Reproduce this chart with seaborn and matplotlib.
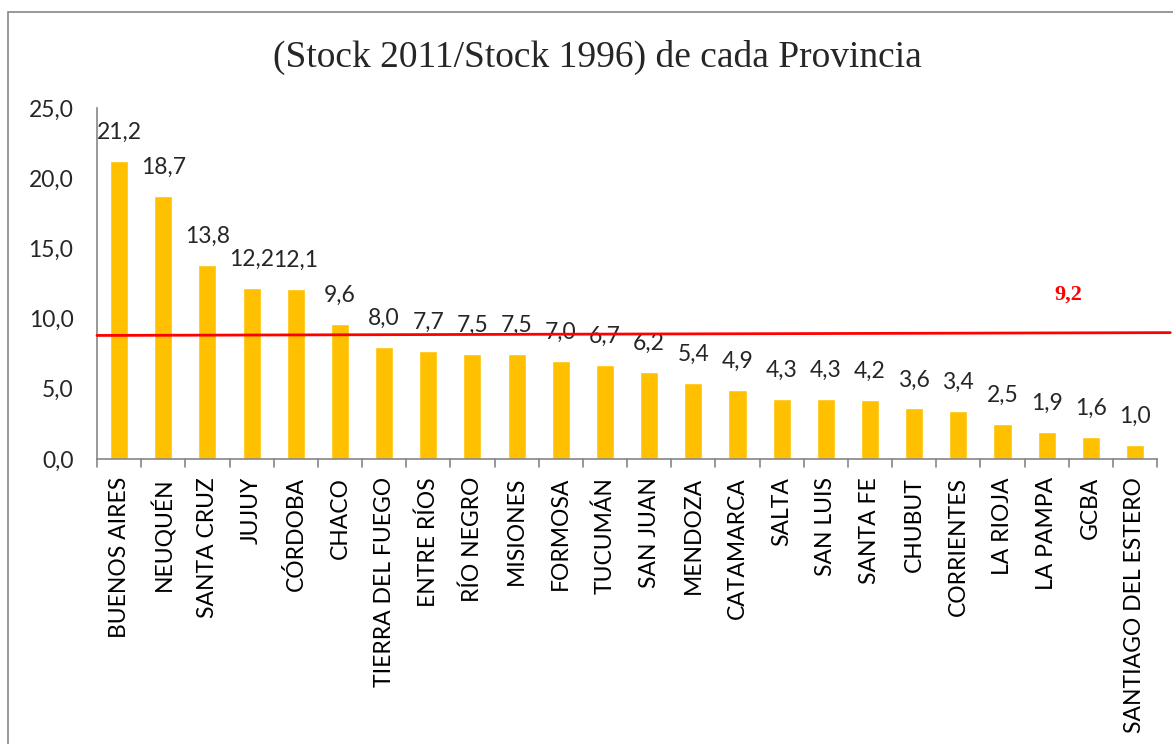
import numpy as np
import pandas as pd
import matplotlib
matplotlib.use("Agg")
import matplotlib.pyplot as plt
import seaborn as sns
from matplotlib.patches import Rectangle
from matplotlib.lines import Line2D

sns.set_theme(style="white")
plt.rcParams['font.family'] = ['Lato', 'DejaVu Sans']

# data
provincias = ['BUENOS AIRES', 'NEUQUÉN', 'SANTA CRUZ', 'JUJUY', 'CÓRDOBA', 'CHACO',
              'TIERRA DEL FUEGO', 'ENTRE RÍOS', 'RÍO NEGRO', 'MISIONES', 'FORMOSA',
              'TUCUMÁN', 'SAN JUAN', 'MENDOZA', 'CATAMARCA', 'SALTA', 'SAN LUIS',
              'SANTA FE', 'CHUBUT', 'CORRIENTES', 'LA RIOJA', 'LA PAMPA', 'GCBA',
              'SANTIAGO DEL ESTERO']
ratio = [21.2, 18.7, 13.8, 12.2, 12.1, 9.6, 8.0, 7.7, 7.5, 7.5, 7.0, 6.7, 6.2,
         5.4, 4.9, 4.3, 4.3, 4.2, 3.6, 3.4, 2.5, 1.9, 1.6, 1.0]
promedio_label = '9,2'
linea_ini, linea_fin = 8.8, 9.0   # red line as drawn (slightly tilted)
yticks = [0, 5, 10, 15, 20, 25]

df = pd.DataFrame({'prov': provincias, 'ratio': ratio})

fig = plt.figure(figsize=(11.73, 7.44), dpi=100)
ax = fig.add_axes([0.0827, 0.383, 0.9037, 0.472])

sns.barplot(data=df, x='prov', y='ratio', color='#FFC000', saturation=1,
            width=0.41, ax=ax)

ax.set_xlim(-0.5, len(provincias) - 0.5)
ax.set_ylim(0, 25)
ax.set_yticks(yticks)
ax.set_yticklabels([f'{v:.1f}'.replace('.', ',') for v in yticks], fontsize=16.5)
ax.set_xticks(range(len(provincias)))
ax.set_xticklabels(provincias, rotation=90, fontsize=16.5)
ax.set_xlabel('')
ax.set_ylabel('')

# Excel-like axes: ticks between categories
ax.tick_params(axis='x', length=0, pad=13, colors='black')
ax.tick_params(axis='y', length=5, width=1.2, color='#868686', direction='out', pad=12)
for x in np.arange(-0.5, len(provincias), 1.0):
    ax.add_line(Line2D([x, x], [0, -0.6], color='#868686', lw=1.2, clip_on=False))
for s in ['top', 'right']:
    ax.spines[s].set_visible(False)
for s in ['left', 'bottom']:
    ax.spines[s].set_color('#868686')
    ax.spines[s].set_linewidth(1.2)

# value labels
ax.bar_label(ax.containers[0], labels=[f'{v:.1f}'.replace('.', ',') for v in ratio],
             padding=13, fontsize=16.5)

# red reference line running past the plot to the right edge
ax.plot([-0.5, len(provincias) - 0.2], [linea_ini, linea_fin], color='#FF0000',
        lw=2, clip_on=False, zorder=5)
fig.text(0.911, 0.6035, promedio_label, color='#FF0000', fontsize=16,
         fontweight='bold', family='Liberation Serif', ha='center', va='center')

fig.text(0.509, 0.923, '(Stock 2011/Stock 1996) de cada Provincia', ha='center',
         va='center', fontsize=27, family='Liberation Serif')

# outer chart frame
fig.patches.append(Rectangle((8 / 1173, -0.1), 1.2, 1 - 12 / 744 + 0.1,
                             transform=fig.transFigure, fill=False,
                             edgecolor='#868686', lw=1.2))

fig.savefig('out.png', dpi=100, facecolor='white')
